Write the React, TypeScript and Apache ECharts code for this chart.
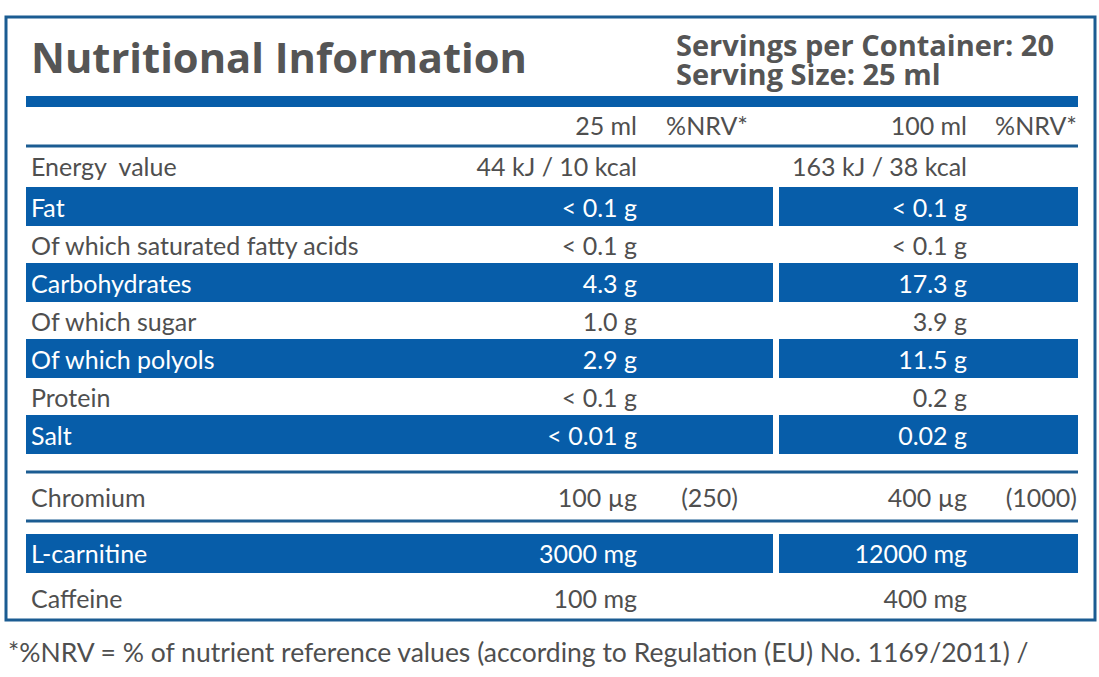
import React, { useEffect, useRef } from "react";
import * as echarts from "echarts";

const title = "Nutritional Information";
const servingLines = ["Servings per Container: 20", "Serving Size: 25 ml"];
const columnHeaders = ["25 ml", "%NRV*", "100 ml", "%NRV*"];
const energyRow = ["Energy  value", "44 kJ / 10 kcal", "163 kJ / 38 kcal"];
const nutrientLabels = ["Fat", "Of which saturated fatty acids", "Carbohydrates", "Of which sugar", "Of which polyols", "Protein", "Salt"];
const per25ml = ["< 0.1 g", "< 0.1 g", "4.3 g", "1.0 g", "2.9 g", "< 0.1 g", "< 0.01 g"];
const per100ml = ["< 0.1 g", "< 0.1 g", "17.3 g", "3.9 g", "11.5 g", "0.2 g", "0.02 g"];
const vitaminRow = ["Chromium", "100 µg", "(250)", "400 µg", "(1000)"];
const extraLabels = ["L-carnitine", "Caffeine"];
const extra25ml = ["3000 mg", "100 mg"];
const extra100ml = ["12000 mg", "400 mg"];
const footnote = "*%NRV = % of nutrient reference values (according to Regulation (EU) No. 1169/2011) /";

const BLUE = "#075da9";
const LINE = "#1b5c92";
const GREY = "#4f4f4f";
const FONT = "Lato";
const HEAD_FONT = "Open Sans";

export default function App() {
  const ref = useRef<HTMLDivElement>(null);
  useEffect(() => {
    const chart = echarts.init(ref.current!, null, { renderer: "svg" });
    const els: any[] = [];
    const txt = (text: string, x: number, y: number, opts: any = {}) =>
      els.push({
        type: "text",
        x,
        y,
        style: {
          text,
          fill: opts.fill || GREY,
          fontSize: opts.size || 25,
          fontWeight: opts.weight || "normal",
          fontFamily: opts.family || FONT,
          textAlign: opts.align || "left",
          textVerticalAlign: "middle",
        },
      });
    const rect = (x: number, y: number, w: number, h: number, fill: string) =>
      els.push({ type: "rect", shape: { x, y, width: w, height: h }, style: { fill } });
    const hline = (y: number) =>
      els.push({ type: "line", shape: { x1: 26, y1: y, x2: 1078, y2: y }, style: { stroke: LINE, lineWidth: 3 } });

    // outer border
    els.push({ type: "rect", shape: { x: 6, y: 17, width: 1089, height: 603 }, style: { fill: "none", stroke: LINE, lineWidth: 3 } });
    txt(title, 31, 56, { size: 41.7, weight: "bold", fill: "#555555", family: HEAD_FONT });
    txt(servingLines[0], 676, 44, { size: 29, weight: "bold", fill: "#555555", family: HEAD_FONT });
    txt(servingLines[1], 676, 73.5, { size: 29, weight: "bold", fill: "#555555", family: HEAD_FONT });
    rect(26, 96, 1052, 11, BLUE);

    const C1 = 637, N1 = 748, C2 = 967, N2 = 1077;
    txt(columnHeaders[0], C1, 125, { align: "right" });
    txt(columnHeaders[1], N1, 125, { align: "right" });
    txt(columnHeaders[2], C2, 125, { align: "right" });
    txt(columnHeaders[3], N2, 125, { align: "right" });
    hline(146);

    txt(energyRow[0], 31, 166);
    txt(energyRow[1], C1, 166, { align: "right" });
    txt(energyRow[2], C2, 166, { align: "right" });

    nutrientLabels.forEach((lab, i) => {
      const top = 187 + 38 * i;
      const hi = i % 2 === 0;
      if (hi) {
        rect(26, top, 747, 39, BLUE);
        rect(779, top, 299, 39, BLUE);
      }
      const fill = hi ? "#ffffff" : GREY;
      const cy = top + 20;
      txt(lab, 31, cy, { fill });
      txt(per25ml[i], C1, cy, { fill, align: "right" });
      txt(per100ml[i], C2, cy, { fill, align: "right" });
    });

    hline(472);
    txt(vitaminRow[0], 31, 497);
    txt(vitaminRow[1], C1, 497, { align: "right" });
    txt(vitaminRow[2], 738, 497, { align: "right" });
    txt(vitaminRow[3], C2, 497, { align: "right" });
    txt(vitaminRow[4], N2, 497, { align: "right" });
    hline(521);

    extraLabels.forEach((lab, i) => {
      const top = 534 + 45 * i;
      const hi = i === 0;
      if (hi) {
        rect(26, top, 747, 39, BLUE);
        rect(779, top, 299, 39, BLUE);
      }
      const fill = hi ? "#ffffff" : GREY;
      const cy = hi ? top + 19 : 598;
      txt(lab, 31, cy, { fill });
      txt(extra25ml[i], C1, cy, { fill, align: "right" });
      txt(extra100ml[i], C2, cy, { fill, align: "right" });
    });

    txt(footnote, 8, 652, { size: 26.5 });

    chart.setOption({ animation: false, backgroundColor: "#ffffff", graphic: { elements: els } });
    return () => chart.dispose();
  }, []);
  return <div ref={ref} style={{ position: "fixed", left: 0, top: 0, width: 1099, height: 677, background: "#fff" }} />;
}
